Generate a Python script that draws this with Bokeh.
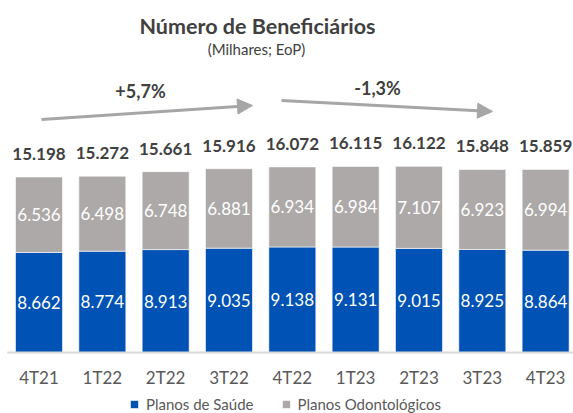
from bokeh.plotting import figure
from bokeh.models import Range1d, ColumnDataSource, Arrow, NormalHead, Legend, LegendItem
from bokeh.core.properties import value
from bokeh.embed import file_html
from bokeh.resources import INLINE

categories = ["4T21", "1T22", "2T22", "3T22", "4T22", "1T23", "2T23", "3T23", "4T23"]
saude = [8662, 8774, 8913, 9035, 9138, 9131, 9015, 8925, 8864]
odonto = [6536, 6498, 6748, 6881, 6934, 6984, 7107, 6923, 6994]
totals = [15198, 15272, 15661, 15916, 16072, 16115, 16122, 15848, 15859]
growth_labels = ["+5,7%", "-1,3%"]

def fmt(v):
    return f"{v:,}".replace(",", ".")

BLUE = "#0052B4"
GRAY = "#ADA9A8"
DARK = "#404040"
FONT = "Lato"

W, H = 573, 413
STEP = 63.33          # px per category
X0 = 38.5             # px of first bar center
BASE = 352            # px from top of the zero line
UNIT = 86.6           # data units per px

p = figure(width=W, height=H, output_backend="svg", toolbar_location=None,
           min_border=0, outline_line_color=None,
           x_range=Range1d(-X0 / STEP, (W - X0) / STEP),
           y_range=Range1d(-(H - BASE) * UNIT, BASE * UNIT))
p.axis.visible = False
p.grid.visible = False

xs = list(range(len(categories)))
src = ColumnDataSource(dict(
    x=xs, cat=categories, saude=saude, odonto=odonto,
    top=[s + o for s, o in zip(saude, odonto)], total=totals,
    s_mid=[s / 2 for s in saude],
    o_mid=[s + o / 2 for s, o in zip(saude, odonto)],
    s_lab=[fmt(v) for v in saude], o_lab=[fmt(v) for v in odonto],
    t_lab=[fmt(v) for v in totals], zero=[0] * len(xs)))

bw = 47 / STEP
r1 = p.vbar(x="x", bottom=0, top="saude", width=bw, source=src,
            fill_color=BLUE, line_color="white", line_width=0.6)
r2 = p.vbar(x="x", bottom="saude", top="top", width=bw, source=src,
            fill_color=GRAY, line_color="white", line_width=0.6)

# baseline
p.segment(x0=-0.5, y0=0, x1=(W - X0) / STEP, y1=0, line_color="#D9D9D9", line_width=2)

p.text(x="x", y="s_mid", text="s_lab", source=src, text_color="white",
       text_font=value(FONT), text_font_size="17px", text_align="center",
       text_baseline="middle")
p.text(x="x", y="o_mid", text="o_lab", source=src, text_color="white",
       text_font=value(FONT), text_font_size="17px", text_align="center",
       text_baseline="middle")
p.text(x="x", y="total", text="t_lab", source=src, text_color=DARK,
       text_font=value(FONT), text_font_size="17px", text_font_style="bold",
       text_align="center", text_baseline="middle", y_offset=-23)
p.text(x="x", y="zero", text="cat", source=src, text_color="#595959",
       text_font=value(FONT), text_font_size="17px", text_align="center",
       text_baseline="middle", y_offset=25)

def dx(px):
    return (px - X0) / STEP

def dy(py):
    return (BASE - py) * UNIT

# title & subtitle
p.text(x=[dx(257)], y=[dy(25)], text=["Número de Beneficiários"], text_color=DARK,
       text_font=value(FONT), text_font_size="21.5px", text_font_style="bold",
       text_align="center", text_baseline="middle")
p.text(x=[dx(256)], y=[dy(48)], text=["(Milhares; EoP)"], text_color=DARK,
       text_font=value(FONT), text_font_size="15px",
       text_align="center", text_baseline="middle")

# growth arrows
AR = "#A6A6A6"
p.add_layout(Arrow(x_start=dx(41), y_start=dy(119), x_end=dx(252), y_end=dy(105),
                   line_color=AR, line_width=3,
                   end=NormalHead(size=15, fill_color=AR, line_color=AR)))
p.add_layout(Arrow(x_start=dx(281), y_start=dy(100), x_end=dx(492), y_end=dy(111),
                   line_color=AR, line_width=3,
                   end=NormalHead(size=15, fill_color=AR, line_color=AR)))
p.text(x=[dx(140), dx(377)], y=[dy(90), dy(87)], text=growth_labels, text_color=DARK,
       text_font=value(FONT), text_font_size="18px", text_font_style="bold",
       text_align="center", text_baseline="middle")

legend = Legend(items=[LegendItem(label="Planos de Saúde", renderers=[r1]),
                       LegendItem(label="Planos Odontológicos", renderers=[r2])],
                orientation="horizontal", location=(129, 0),
                label_text_font=FONT, label_text_font_size="15px",
                label_text_color="#595959", glyph_width=10, glyph_height=10,
                spacing=27, padding=0, margin=0, label_standoff=7,
                label_height=14,
                background_fill_alpha=0, border_line_alpha=0)
p.add_layout(legend)

open("out.html", "w").write(file_html(p, INLINE))
